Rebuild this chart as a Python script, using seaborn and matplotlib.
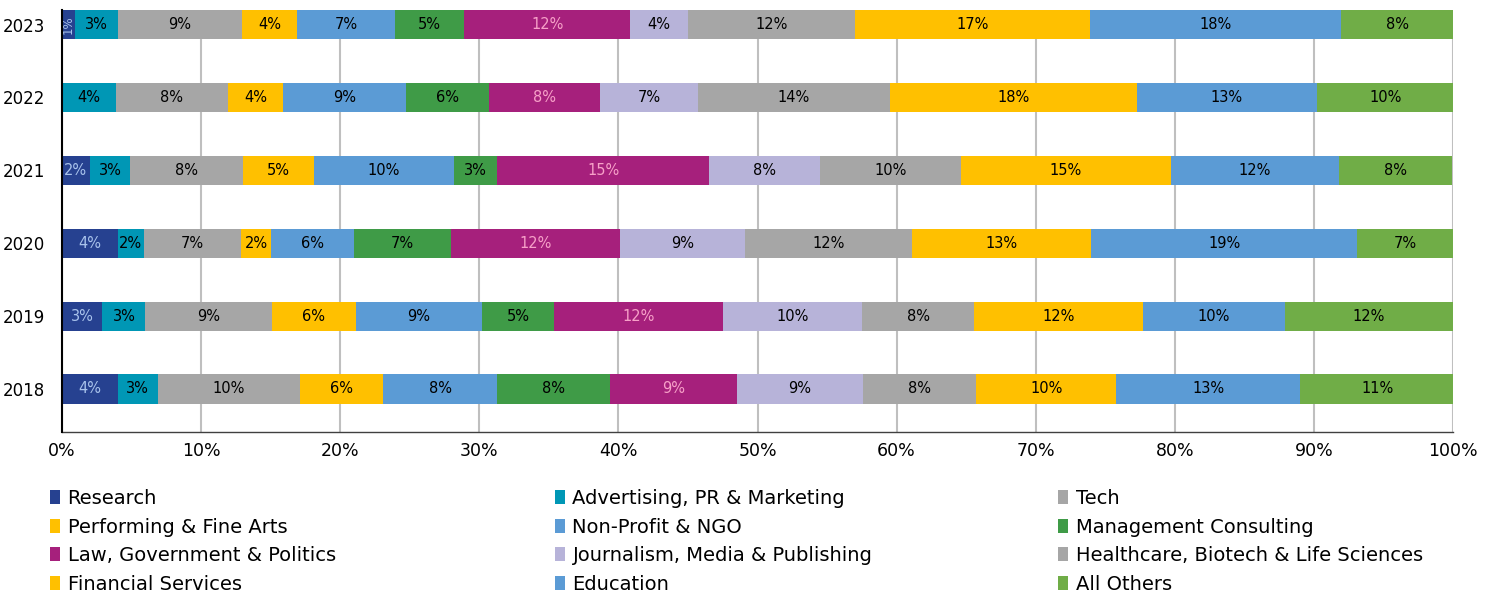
import matplotlib
matplotlib.use("Agg")
import matplotlib.pyplot as plt
import seaborn as sns
import numpy as np
import pandas as pd
from matplotlib.patches import Patch

years = ['2023', '2022', '2021', '2020', '2019', '2018']

categories = ['Research', 'Advertising, PR & Marketing', 'Tech',
              'Performing & Fine Arts', 'Non-Profit & NGO', 'Management Consulting',
              'Law, Government & Politics', 'Journalism, Media & Publishing',
              'Healthcare, Biotech & Life Sciences', 'Financial Services',
              'Education', 'All Others']

research    = [0.93, 0.0, 2.0, 4.0, 2.9, 4.0]
advertising = [3.1, 3.9, 2.9, 1.9, 3.1, 2.9]
tech        = [8.9, 8.0, 8.1, 7.0, 9.1, 10.2]
performing  = [4.0, 4.0, 5.1, 2.1, 6.0, 6.0]
nonprofit   = [7.0, 8.8, 10.1, 6.0, 9.1, 8.2]
management  = [5.0, 6.0, 3.1, 7.0, 5.2, 8.1]
law         = [11.9, 8.0, 15.2, 12.1, 12.1, 9.1]
journalism  = [4.2, 7.0, 8.0, 9.0, 10.0, 9.1]
healthcare  = [12.0, 13.8, 10.1, 12.0, 8.1, 8.1]
financial   = [16.9, 17.8, 15.1, 12.9, 12.1, 10.1]
education   = [18.0, 12.9, 12.1, 19.1, 10.2, 13.2]
others      = [8.1, 9.9, 8.1, 7.0, 12.1, 11.1]

series = [research, advertising, tech, performing, nonprofit, management,
          law, journalism, healthcare, financial, education, others]

colors = ['#264190', '#0097b5', '#a6a6a6', '#ffc000', '#5b9bd5', '#3f9b47',
          '#a6207c', '#b7b3d9', '#a6a6a6', '#ffc000', '#5b9bd5', '#70ad47']
label_colors = ['#a9c3ec', 'black', 'black', 'black', 'black', 'black',
                '#f7a1c8', 'black', 'black', 'black', 'black', 'black']

sns.set_theme(style="white")
plt.rcParams['font.family'] = ['DejaVu Sans']
plt.rcParams['text.color'] = 'black'
plt.rcParams['xtick.color'] = 'black'
plt.rcParams['ytick.color'] = 'black'

fig = plt.figure(figsize=(14.96, 5.95), dpi=100)
ax = fig.add_axes([62/1496, 1 - 432/595, (1453-62)/1496, (432-10)/595])

vals = np.array(series)            # shape (12, 6)
cum = np.cumsum(vals, axis=0)

# draw cumulative bars from the last (widest) to the first so each overlays
for i in range(len(categories) - 1, -1, -1):
    df = pd.DataFrame({'year': years, 'value': cum[i]})
    sns.barplot(data=df, x='value', y='year', order=years, color=colors[i],
                saturation=1, width=0.4, orient='h', ax=ax, linewidth=0,
                zorder=2)

for i in range(len(categories)):
    for j, yr in enumerate(years):
        v = vals[i, j]
        if v < 0.5:
            continue
        xc = cum[i, j] - v / 2
        lab = f"{int(round(v))}%"
        if v < 1.5:
            ax.text(xc, j, lab, ha='center', va='center', rotation=90,
                    fontsize=8.5, color=label_colors[i], zorder=5)
        else:
            ax.text(xc, j, lab, ha='center', va='center',
                    fontsize=10.5, color=label_colors[i], zorder=5)

ax.set_xlim(0, 100)
ax.set_ylim(5.59, -0.2)
ax.set_xticks(np.arange(0, 101, 10))
ax.set_xticklabels([f"{t}%" for t in range(0, 101, 10)], fontsize=12.5)
ax.tick_params(axis='x', length=0, pad=7)
ax.tick_params(axis='y', length=0, pad=12, labelsize=12)
ax.set_xlabel('')
ax.set_ylabel('')
ax.set_axisbelow(True)
ax.xaxis.grid(True, color='#bfbfbf', linewidth=1.5, zorder=0)
ax.yaxis.grid(False)
for s in ['top', 'right']:
    ax.spines[s].set_visible(False)
ax.spines['left'].set_color('black')
ax.spines['left'].set_linewidth(1.5)
ax.spines['left'].set_zorder(6)
ax.spines['bottom'].set_color('#404040')
ax.spines['bottom'].set_linewidth(1.0)

handles = [Patch(facecolor=c, edgecolor='none') for c in colors]
col_x = [50, 555, 1058]
for c in range(3):
    idx = [c, c + 3, c + 6, c + 9]
    fig.legend([handles[k] for k in idx], [categories[k] for k in idx],
               loc='upper left', bbox_to_anchor=(col_x[c]/1496, 1 - 489/595),
               frameon=False, fontsize=14, handlelength=0.5, handleheight=0.7,
               handletextpad=0.4, labelspacing=0.49, borderpad=0, borderaxespad=0,
               labelcolor='black')

fig.savefig('out.png', dpi=100)
